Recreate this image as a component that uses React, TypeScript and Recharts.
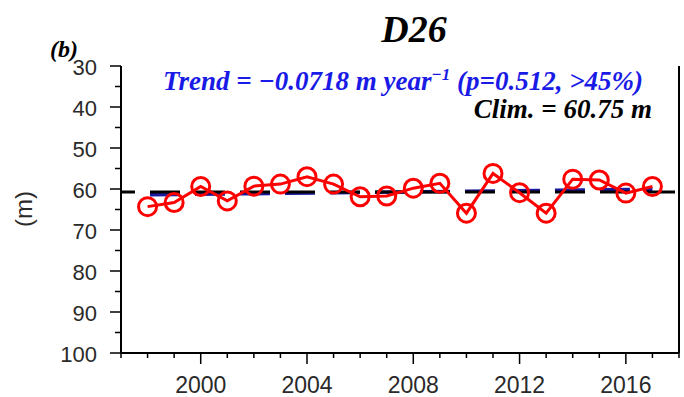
import React from "react"
import {
  ComposedChart,
  Line,
  XAxis,
  YAxis,
  ReferenceLine,
} from "recharts"

// annual mean depth at station D26
const YEARS = [1998, 1999, 2000, 2001, 2002, 2003, 2004, 2005, 2006, 2007, 2008, 2009, 2010, 2011, 2012, 2013, 2014, 2015, 2016, 2017]
const DEPTH = [64.3, 63.3, 59.4, 62.9, 59.3, 58.8, 57.0, 58.8, 61.9, 61.7, 59.8, 58.6, 65.9, 56.2, 60.9, 65.9, 57.6, 57.8, 61.0, 59.4]

const CLIM = 60.75
// regression line end points (1998 -> 2017)
const TREND_START = 61.43
const TREND_END = 60.07

const X_TICKS = [1997, 1998, 1999, 2000, 2001, 2002, 2003, 2004, 2005, 2006, 2007, 2008, 2009, 2010, 2011, 2012, 2013, 2014, 2015, 2016, 2017, 2018]
const X_MAJOR = [2000, 2004, 2008, 2012, 2016]
const Y_TICKS = [30, 35, 40, 45, 50, 55, 60, 65, 70, 75, 80, 85, 90, 95, 100]
const Y_MAJOR = [30, 40, 50, 60, 70, 80, 90, 100]

const data = YEARS.map((year, i) => ({ year, depth: DEPTH[i] }))

const SANS = "'Liberation Sans', Arial, sans-serif"
const SERIF = "'Liberation Serif', 'Times New Roman', serif"
const LABEL = "#2a2a2a"

// eslint-disable-next-line @typescript-eslint/no-explicit-any
function BottomTick({ x, y, payload }: any) {
  const major = X_MAJOR.includes(payload.value)
  return (
    <g>
      <line x1={x} x2={x} y1={y} y2={y + (major ? 11 : 5)} stroke="#000" strokeWidth={1.5} />
      {major && (
        <text x={x} y={y + 40} textAnchor="middle" fontFamily={SANS} fontSize={23} fill={LABEL}>
          {payload.value}
        </text>
      )}
    </g>
  )
}

// eslint-disable-next-line @typescript-eslint/no-explicit-any
function TopTick({ x, y, payload }: any) {
  const major = X_MAJOR.includes(payload.value)
  return <line x1={x} x2={x} y1={y} y2={y - (major ? 11 : 5)} stroke="#000" strokeWidth={1.5} />
}

// eslint-disable-next-line @typescript-eslint/no-explicit-any
function LeftTick({ x, y, payload }: any) {
  const major = Y_MAJOR.includes(payload.value)
  return (
    <g>
      <line x1={x} x2={x - (major ? 11 : 6)} y1={y} y2={y} stroke="#000" strokeWidth={1.5} />
      {major && (
        <text x={x - 24} y={y + 9} textAnchor="end" fontFamily={SANS} fontSize={22} fill={LABEL}>
          {payload.value}
        </text>
      )}
    </g>
  )
}

// eslint-disable-next-line @typescript-eslint/no-explicit-any
function RightTick({ x, y, payload }: any) {
  const major = Y_MAJOR.includes(payload.value)
  return <line x1={x} x2={x + (major ? 11 : 6)} y1={y} y2={y} stroke="#000" strokeWidth={1.5} />
}

const axisLine = { stroke: "#000", strokeWidth: 2 }

export default function App() {
  return (
    <div style={{ position: "absolute", left: 0, top: 0, width: 684, height: 397, background: "#fff" }}>
      <ComposedChart width={684} height={397} data={data} margin={{ top: 66, right: 4, left: 0, bottom: 0 }}>
        <XAxis
          xAxisId="bottom"
          dataKey="year"
          type="number"
          domain={[1997, 2018]}
          ticks={X_TICKS}
          interval={0}
          height={44}
          tickSize={0}
          tickMargin={0}
          tickLine={false}
          axisLine={axisLine}
          tick={BottomTick}
        />
        <XAxis
          xAxisId="top"
          orientation="top"
          dataKey="year"
          type="number"
          domain={[1997, 2018]}
          ticks={X_TICKS}
          interval={0}
          height={0}
          tickSize={0}
          tickMargin={0}
          tickLine={false}
          axisLine={axisLine}
          tick={TopTick}
        />
        <YAxis
          yAxisId="left"
          type="number"
          domain={[30, 100]}
          reversed
          ticks={Y_TICKS}
          interval={0}
          width={121}
          tickSize={0}
          tickMargin={0}
          tickLine={false}
          axisLine={axisLine}
          tick={LeftTick}
        />
        <YAxis
          yAxisId="right"
          orientation="right"
          type="number"
          domain={[30, 100]}
          reversed
          ticks={Y_TICKS}
          interval={0}
          width={1}
          tickSize={0}
          tickMargin={0}
          tickLine={false}
          axisLine={axisLine}
          tick={RightTick}
        />
        {/* both dashed lines share one dash phase so their gaps line up */}
        <ReferenceLine
          xAxisId="bottom"
          yAxisId="left"
          segment={[{ x: 1998, y: TREND_START }, { x: 2017, y: TREND_END }]}
          stroke="#1a1aa0"
          strokeWidth={3.5}
          strokeDasharray="30 15"
          strokeDashoffset={42.6}
        />
        <ReferenceLine
          xAxisId="bottom"
          yAxisId="left"
          y={CLIM}
          stroke="#000"
          strokeWidth={3}
          strokeDasharray="30 15"
          strokeDashoffset={16}
        />
        <Line
          xAxisId="bottom"
          yAxisId="left"
          dataKey="depth"
          stroke="#ff0000"
          strokeWidth={3}
          dot={{ r: 9, stroke: "#ff0000", strokeWidth: 3, fill: "none" }}
          isAnimationActive={false}
        />
      </ComposedChart>
      <svg width={684} height={397} style={{ position: "absolute", left: 0, top: 0, pointerEvents: "none" }}>
        <text x={414} y={42} textAnchor="middle" fontFamily={SERIF} fontWeight="bold" fontStyle="italic" fontSize={38} fill="#000">
          D26
        </text>
        <text x={50} y={57} fontFamily={SERIF} fontWeight="bold" fontStyle="italic" fontSize={24} fill="#000">
          (b)
        </text>
        <text x={24} y={209} textAnchor="middle" transform="rotate(-90 24 209)" dy={8} fontFamily={SANS} fontSize={24} fill={LABEL}>
          (m)
        </text>
        <text x={163} y={90} fontFamily={SERIF} fontWeight="bold" fontStyle="italic" fontSize={27} fill="#1a1ae6">
          Trend = −0.0718 m year
          <tspan dy={-10} fontSize={17}>−1</tspan>
          <tspan dy={10}> (p=0.512, &gt;45%)</tspan>
        </text>
        <text x={652} y={118} textAnchor="end" fontFamily={SERIF} fontWeight="bold" fontStyle="italic" fontSize={27} fill="#000">
          Clim. = 60.75 m
        </text>
      </svg>
    </div>
  )
}
